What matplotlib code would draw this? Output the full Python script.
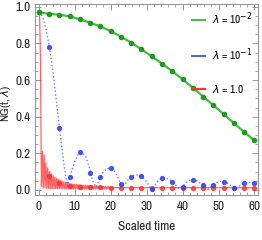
import numpy as np
import matplotlib
matplotlib.use("Agg")
import matplotlib.pyplot as plt
from matplotlib.ticker import MultipleLocator

plt.rcParams['font.family'] = ['Archivo Narrow', 'Liberation Sans', 'DejaVu Sans']

# tempos dos marcadores (22 pontos de 0 a 60)
t_marc = np.linspace(0, 60, 22)

verde = [0.970, 0.962, 0.957, 0.948, 0.932, 0.913, 0.893, 0.867, 0.837, 0.804, 0.768,
         0.729, 0.690, 0.648, 0.604, 0.558, 0.510, 0.462, 0.414, 0.364, 0.316, 0.270]

azul_marc = [0.970, 0.780, 0.340, 0.070, 0.205, 0.090, 0.070, 0.118, 0.030, 0.073, 0.076,
             0.005, 0.064, 0.045, 0.018, 0.055, 0.027, 0.027, 0.045, 0.009, 0.036, 0.035]

vermelho_marc = [0.970, 0.075, 0.035, 0.020, 0.016, 0.014, 0.013, 0.012, 0.012, 0.012, 0.012,
                 0.012, 0.012, 0.012, 0.012, 0.012, 0.012, 0.012, 0.012, 0.012, 0.012, 0.012]

# curva azul pontilhada (passo 1)
t_azul = np.arange(0, 61)
azul = [0.97, 0.95, 0.88, 0.78, 0.64, 0.47, 0.30, 0.14, 0.02, 0.09,
        0.155, 0.195, 0.205, 0.185, 0.13, 0.05, 0.015, 0.065, 0.10, 0.117,
        0.118, 0.105, 0.07, 0.02, 0.03, 0.06, 0.075, 0.082, 0.08, 0.068,
        0.045, 0.012, 0.015, 0.045, 0.062, 0.066, 0.06, 0.047, 0.028, 0.006,
        0.018, 0.04, 0.053, 0.057, 0.05, 0.036, 0.017, 0.003, 0.02, 0.035,
        0.045, 0.048, 0.043, 0.03, 0.012, 0.008, 0.025, 0.036, 0.04, 0.04,
        0.036]

# curva vermelha oscilante (passo 0.25 até t=20, depois cauda)
t_verm = np.concatenate([np.arange(0, 20.25, 0.25), [25, 30, 35, 40, 45, 50, 55, 60]])
vermelho = [0.97, 0.95, 0.70, 0.02, 0.21, 0.010, 0.19, 0.010, 0.15, 0.008,
            0.12, 0.008, 0.10, 0.007, 0.088, 0.007, 0.078, 0.006, 0.070, 0.006,
            0.063, 0.006, 0.057, 0.006, 0.052, 0.005, 0.048, 0.005, 0.044, 0.005,
            0.041, 0.005, 0.038, 0.005, 0.036, 0.005, 0.034, 0.005, 0.032, 0.005,
            0.031, 0.005, 0.030, 0.005, 0.029, 0.005, 0.028, 0.005, 0.027, 0.005,
            0.026, 0.005, 0.025, 0.005, 0.025, 0.005, 0.024, 0.005, 0.023, 0.005,
            0.023, 0.005, 0.022, 0.005, 0.022, 0.005, 0.021, 0.005, 0.021, 0.005,
            0.020, 0.005, 0.020, 0.005, 0.019, 0.005, 0.019, 0.005, 0.018, 0.005,
            0.012,
            0.012, 0.012, 0.012, 0.012, 0.012, 0.012, 0.012, 0.012]

rotulos = [r'$\lambda$ = 10$^{-2}$', r'$\lambda$ = 10$^{-1}$', r'$\lambda$ = 1.0']

fig = plt.figure(figsize=(2.62, 2.40), dpi=100)
ax = fig.add_axes([0.134, 0.1875, 0.851, 0.7955])

c_verde, c_azul, c_verm = '#44bb44', '#4a5cff', '#ff3030'

ax.plot(t_verm, vermelho, color=c_verm, lw=0.9, alpha=0.75)
ax.plot(t_marc, vermelho_marc, 'o', color=c_verm, ms=2.8, alpha=0.8)
ax.plot(t_azul, azul, ':', color=c_azul, lw=1.0, alpha=0.8)
ax.plot(t_marc, azul_marc, 'o', color='#3344ee', ms=2.8, alpha=0.85)
ax.plot(t_marc, verde, '-', color=c_verde, lw=1.6)
ax.plot(t_marc, verde, 'o', color='#1f991f', ms=3)

# entradas da legenda
h1, = ax.plot([], [], '-', color=c_verde, lw=1.4)
h2, = ax.plot([], [], '-', color=c_azul, lw=1.4)
h3, = ax.plot([], [], '-', color=c_verm, lw=1.6)
ax.legend([h1, h2, h3], rotulos, loc='upper right', frameon=False, fontsize=8,
          handlelength=1.2, handletextpad=0.6, labelspacing=1.75,
          bbox_to_anchor=(1.0, 0.995), borderaxespad=0.1)

ax.set_xlim(-1, 61)
ax.set_ylim(-0.028, 1.015)
ax.xaxis.set_major_locator(MultipleLocator(10))
ax.xaxis.set_minor_locator(MultipleLocator(2))
ax.yaxis.set_major_locator(MultipleLocator(0.2))
ax.yaxis.set_minor_locator(MultipleLocator(0.05))
ax.yaxis.set_major_formatter(plt.FuncFormatter(lambda v, p: f'{v:.1f}'))

cinza = '#999999'
for lado in ax.spines.values():
    lado.set_color(cinza)
    lado.set_linewidth(0.8)
ax.tick_params(which='both', direction='in', top=True, right=True, color=cinza,
               labelsize=9.5, labelcolor='#222222')
ax.tick_params(axis='y', pad=3.5)
ax.tick_params(axis='x', pad=4)
ax.tick_params(which='major', length=4, width=0.7)
ax.tick_params(which='minor', length=2, width=0.6)

ax.set_xlabel('Scaled time', fontsize=9.5, color='#222222', labelpad=7)
ax.set_ylabel(r'NG(t, $\lambda$)', fontsize=8.5, color='#222222')
ax.yaxis.set_label_coords(-0.097, 0.48)

fig.savefig('out.png', dpi=100)
